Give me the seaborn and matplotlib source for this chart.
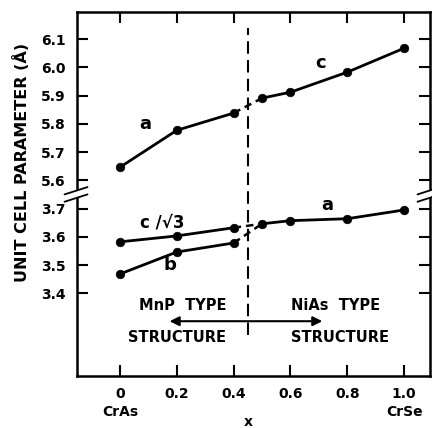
import matplotlib
matplotlib.use("Agg")
import matplotlib.pyplot as plt
import matplotlib.transforms as mtransforms
import pandas as pd
import seaborn as sns

# ---- data ----
x_mnp = [0.0, 0.2, 0.4]
a_mnp = [5.646, 5.777, 5.838]
c_sqrt3_mnp = [3.582, 3.603, 3.632]
b_mnp = [3.468, 3.546, 3.578]

x_nias = [0.5, 0.6, 0.8, 1.0]
c_nias = [5.891, 5.912, 5.983, 6.068]
a_nias = [3.646, 3.657, 3.664, 3.695]

x_ticks = [0.0, 0.2, 0.4, 0.6, 0.8, 1.0]
x_tick_labels = ["0", "0.2", "0.4", "0.6", "0.8", "1.0"]
y_low_ticks = [3.4, 3.5, 3.6, 3.7]
y_high_ticks = [5.6, 5.7, 5.8, 5.9, 6.0, 6.1]

BREAK_SHIFT = 1.8   # upper section drawn shifted down (axis break)
x_boundary = 0.45

sns.set_style("ticks")
plt.rcParams['font.family'] = ['DejaVu Sans']
plt.rcParams['font.weight'] = 'bold'
plt.rcParams['text.color'] = 'black'
plt.rcParams['xtick.color'] = 'black'
plt.rcParams['ytick.color'] = 'black'
plt.rcParams['axes.edgecolor'] = 'black'

fig = plt.figure(figsize=(4.32, 4.28), dpi=100)
ax = fig.add_axes([0.178, 0.1215, 0.817, 0.8505])

def shifted(vals):
    return [v - BREAK_SHIFT for v in vals]

def series(xs, ys):
    return pd.DataFrame({"x": xs, "y": ys})

solid = [
    series(x_mnp, shifted(a_mnp)),
    series(x_nias, shifted(c_nias)),
    series(x_mnp, c_sqrt3_mnp),
    series(x_mnp, b_mnp),
    series(x_nias, a_nias),
]
for df in solid:
    sns.lineplot(data=df, x="x", y="y", ax=ax, color="black", lw=2.0,
                 sort=False, estimator=None)
    sns.scatterplot(data=df, x="x", y="y", ax=ax, color="black", s=38,
                    edgecolor="black", zorder=5)

dashed = [
    series([x_mnp[-1], x_nias[0]], shifted([a_mnp[-1], c_nias[0]])),
    series([x_mnp[-1], x_nias[0]], [c_sqrt3_mnp[-1], a_nias[0]]),
    series([x_mnp[-1], x_nias[0]], [b_mnp[-1], a_nias[0]]),
]
for df in dashed:
    sns.lineplot(data=df, x="x", y="y", ax=ax, color="black", lw=1.8,
                 sort=False, estimator=None, linestyle=(0, (3, 2)))

# phase boundary
ax.plot([x_boundary, x_boundary], [3.252, 6.139 - BREAK_SHIFT], color="black",
        lw=1.5, linestyle=(0, (6, 3)))

# double arrow
ax.annotate("", xy=(0.175, 3.301), xytext=(0.712, 3.301),
            arrowprops=dict(arrowstyle="<|-|>", color="black", lw=1.5,
                            mutation_scale=14, shrinkA=0, shrinkB=0))

fs = 10
fs2 = 10.5
ax.text(0.22, 3.358, "MnP  TYPE", ha="center", va="center", fontsize=fs2)
ax.text(0.2, 3.245, "STRUCTURE", ha="center", va="center", fontsize=fs2)
ax.text(0.758, 3.358, "NiAs  TYPE", ha="center", va="center", fontsize=fs2)
ax.text(0.775, 3.245, "STRUCTURE", ha="center", va="center", fontsize=fs2)

ax.text(0.088, 5.80 - BREAK_SHIFT, "a", ha="center", va="center", fontsize=13)
ax.text(0.705, 6.015 - BREAK_SHIFT, "c", ha="center", va="center", fontsize=13)
ax.text(0.73, 3.711, "a", ha="center", va="center", fontsize=13)
ax.text(0.15, 3.652, "c /√3", ha="center", va="center", fontsize=12)
ax.text(0.175, 3.50, "b", ha="center", va="center", fontsize=13)

ax.set_xlim(-0.151, 1.09)
ax.set_ylim(3.107, 6.196 - BREAK_SHIFT)

ax.set_xticks(x_ticks)
ax.set_xticklabels(x_tick_labels, fontsize=fs)
yt = y_low_ticks + shifted(y_high_ticks)
ax.set_yticks(yt)
ax.set_yticklabels([f"{v:.1f}" for v in y_low_ticks + y_high_ticks], fontsize=fs)
ax.tick_params(axis="both", direction="in", length=8, width=1.5,
               top=True, right=True, pad=8)
ax.tick_params(axis="y", labelright=False)
for s in ax.spines.values():
    s.set_linewidth(1.8)

ax.set_xlabel("")
ax.set_ylabel("")

trans = mtransforms.blended_transform_factory(ax.transData, ax.transAxes)
ax.text(0.0, -0.099, "CrAs", transform=trans, ha="center", va="center", fontsize=fs)
ax.text(1.0, -0.099, "CrSe", transform=trans, ha="center", va="center", fontsize=fs)
ax.text(x_boundary, -0.126, "x", transform=trans, ha="center", va="center", fontsize=fs)

fig.text(22 / 432, 1 - 162 / 428, "UNIT CELL PARAMETER (Å)", rotation=90,
         ha="center", va="center", fontsize=11.5)

# axis break marks
ybreak = 3.75
tb = mtransforms.blended_transform_factory(ax.transAxes, ax.transData)
for xa in (0.0, 1.0):
    ax.plot([xa - 0.012, xa + 0.012], [ybreak - 0.012, ybreak + 0.012],
            transform=tb, color="white", lw=4, clip_on=False, zorder=6)
    for dy in (-0.013, 0.013):
        ax.plot([xa - 0.035, xa + 0.03], [ybreak + dy - 0.013, ybreak + dy + 0.013],
                transform=tb, color="black", lw=1.3, clip_on=False, zorder=7)

fig.savefig("out.png", dpi=100)
